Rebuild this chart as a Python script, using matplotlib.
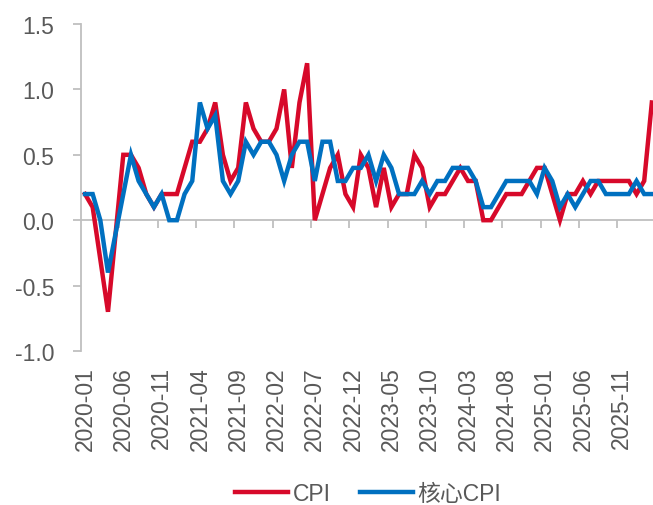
import matplotlib
matplotlib.use("Agg")
import matplotlib.pyplot as plt

plt.rcParams["font.family"] = ["Liberation Sans", "Noto Sans CJK SC"]
plt.rcParams["axes.unicode_minus"] = False

# monthly data, 2020-01 .. 2026-03
months = [f"{y}-{m:02d}" for y in range(2020, 2027) for m in range(1, 13)][:75]

cpi = [0.2, 0.1, -0.3, -0.7, -0.1, 0.5, 0.5, 0.4, 0.2, 0.1, 0.2, 0.2,
       0.2, 0.4, 0.6, 0.6, 0.7, 0.9, 0.5, 0.3, 0.4, 0.9, 0.7, 0.6,
       0.6, 0.7, 1.0, 0.4, 0.9, 1.2, 0.0, 0.2, 0.4, 0.5, 0.2, 0.1,
       0.5, 0.4, 0.1, 0.4, 0.1, 0.2, 0.2, 0.5, 0.4, 0.1, 0.2, 0.2,
       0.3, 0.4, 0.3, 0.3, 0.0, 0.0, 0.1, 0.2, 0.2, 0.2, 0.3, 0.4,
       0.4, 0.2, 0.0, 0.2, 0.2, 0.3, 0.2, 0.3, 0.3, 0.3, 0.3, 0.3,
       0.2, 0.3, 0.9]

core = [0.2, 0.2, 0.0, -0.4, -0.1, 0.2, 0.5, 0.3, 0.2, 0.1, 0.2, 0.0,
        0.0, 0.2, 0.3, 0.9, 0.7, 0.8, 0.3, 0.2, 0.3, 0.6, 0.5, 0.6,
        0.6, 0.5, 0.3, 0.5, 0.6, 0.6, 0.3, 0.6, 0.6, 0.3, 0.3, 0.4,
        0.4, 0.5, 0.3, 0.5, 0.4, 0.2, 0.2, 0.2, 0.3, 0.2, 0.3, 0.3,
        0.4, 0.4, 0.4, 0.3, 0.1, 0.1, 0.2, 0.3, 0.3, 0.3, 0.3, 0.2,
        0.4, 0.3, 0.1, 0.2, 0.1, 0.2, 0.3, 0.3, 0.2, 0.2, 0.2, 0.2,
        0.3, 0.2, 0.2]

yticks = [-1.0, -0.5, 0.0, 0.5, 1.0, 1.5]

red = "#D7092A"
blue = "#0070C0"
gray = "#595959"
axis_gray = "#BFBFBF"

fig = plt.figure(figsize=(6.53, 5.06), dpi=100)
ax = fig.add_axes([0.1243, 0.3043, 0.8798, 0.6463])

x = list(range(len(months)))
ax.plot(x, cpi, color=red, lw=3.2, label="CPI", solid_joinstyle="miter")
ax.plot(x, core, color=blue, lw=3.2, label="核心CPI", solid_joinstyle="miter")

ax.set_xlim(-0.5, len(months) - 0.5)
ax.set_ylim(-1.0, 1.5)

for s in ["top", "right", "bottom"]:
    ax.spines[s].set_visible(False)
ax.spines["left"].set_color(axis_gray)
ax.spines["left"].set_linewidth(1.3)

ax.set_yticks(yticks)
ax.set_yticklabels([f"{v:.1f}" for v in yticks])
ax.tick_params(axis="y", length=5.5, width=1.3, color=axis_gray, pad=14,
               labelsize=16.5, labelcolor=gray)

ax.set_xticks(x[::5])
ax.set_xticklabels(months[::5], rotation=90)
ax.tick_params(axis="x", length=0, pad=11, labelsize=16.5, labelcolor=gray)

# category axis line at zero, ticks between groups of 5 months
zero_pos = (0 - ax.get_ylim()[0]) / (ax.get_ylim()[1] - ax.get_ylim()[0])
sec = ax.secondary_xaxis(zero_pos)
sec.set_xticks([i - 0.5 for i in x[5::5]])
sec.set_xticklabels([])
sec.tick_params(axis="x", direction="out", length=5.5, width=1.3, color=axis_gray)
sec.spines["bottom"].set_color(axis_gray)
sec.spines["bottom"].set_linewidth(1.3)
sec.spines["top"].set_visible(False)

ax.legend(loc="center", bbox_to_anchor=(0.5, -0.437), ncol=2, frameon=False,
          fontsize=16.5, labelcolor=gray, handlelength=2.3, handletextpad=0.2,
          columnspacing=1.3)

fig.savefig("out.png", dpi=100)
